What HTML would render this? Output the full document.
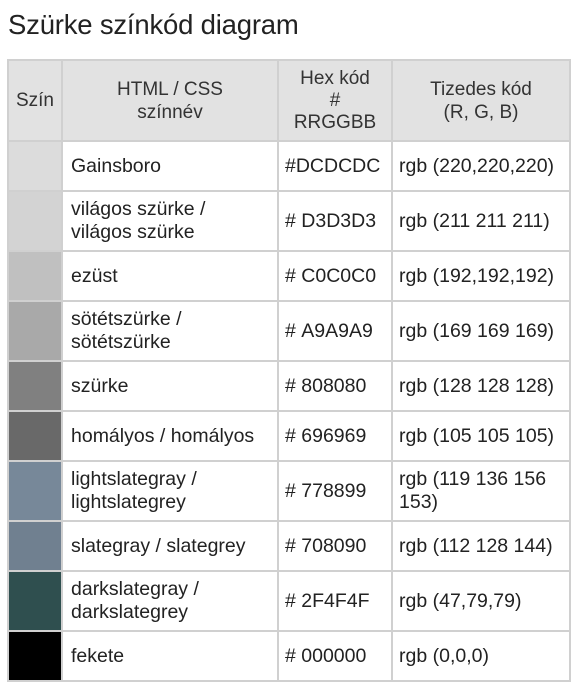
<!DOCTYPE html>
<html><head><meta charset="utf-8"><style>
body{margin:0;width:572px;height:680px;overflow:hidden;background:#fff;font-family:"Liberation Sans",Arial,sans-serif;color:#222}
h1{position:absolute;left:8px;top:9px;margin:0;font-size:27.5px;font-weight:normal;color:#222;letter-spacing:-0.2px}
table{position:absolute;left:7px;top:59px;width:564px;border-collapse:collapse;table-layout:fixed;font-size:19.5px;line-height:23px}
td,th{border:2px solid #d0d0d0;padding:0 0 0 8px;vertical-align:middle;text-align:left;white-space:nowrap}
th{background:#e2e2e2;font-weight:normal;text-align:center;padding:0;color:#333;font-size:19px}
td:first-child{padding:0}
td.p{padding-left:6px}
</style></head><body>
<h1>Szürke színkód diagram</h1>
<table>
<colgroup><col style="width:54px"><col style="width:216px"><col style="width:114px"><col></colgroup>
<tr style="height:81px"><th>Szín</th><th>HTML / CSS<br>színnév</th><th style="line-height:22px">Hex kód<br>#<br>RRGGBB</th><th>Tizedes kód<br>(R, G, B)</th></tr>
<tr style="height:50px"><td style="background:#DCDCDC"></td><td>Gainsboro</td><td class="p">#DCDCDC</td><td class="p">rgb (220,220,220)</td></tr>
<tr style="height:60px"><td style="background:#D3D3D3"></td><td>világos szürke /<br>világos szürke</td><td class="p">#&nbsp;D3D3D3</td><td class="p">rgb (211 211 211)</td></tr>
<tr style="height:50px"><td style="background:#C0C0C0"></td><td>ezüst</td><td class="p">#&nbsp;C0C0C0</td><td class="p">rgb (192,192,192)</td></tr>
<tr style="height:60px"><td style="background:#A9A9A9"></td><td>sötétszürke /<br>sötétszürke</td><td class="p">#&nbsp;A9A9A9</td><td class="p">rgb (169 169 169)</td></tr>
<tr style="height:50px"><td style="background:#808080"></td><td>szürke</td><td class="p">#&nbsp;808080</td><td class="p">rgb (128 128 128)</td></tr>
<tr style="height:50px"><td style="background:#696969"></td><td>homályos / homályos</td><td class="p">#&nbsp;696969</td><td class="p">rgb (105 105 105)</td></tr>
<tr style="height:60px"><td style="background:#778899"></td><td>lightslategray /<br>lightslategrey</td><td class="p">#&nbsp;778899</td><td class="p">rgb (119 136 156<br>153)</td></tr>
<tr style="height:50px"><td style="background:#708090"></td><td>slategray / slategrey</td><td class="p">#&nbsp;708090</td><td class="p">rgb (112 128 144)</td></tr>
<tr style="height:60px"><td style="background:#2F4F4F"></td><td>darkslategray /<br>darkslategrey</td><td class="p">#&nbsp;2F4F4F</td><td class="p">rgb (47,79,79)</td></tr>
<tr style="height:50px"><td style="background:#000"></td><td>fekete</td><td class="p">#&nbsp;000000</td><td class="p">rgb (0,0,0)</td></tr>
</table>
</body></html>
